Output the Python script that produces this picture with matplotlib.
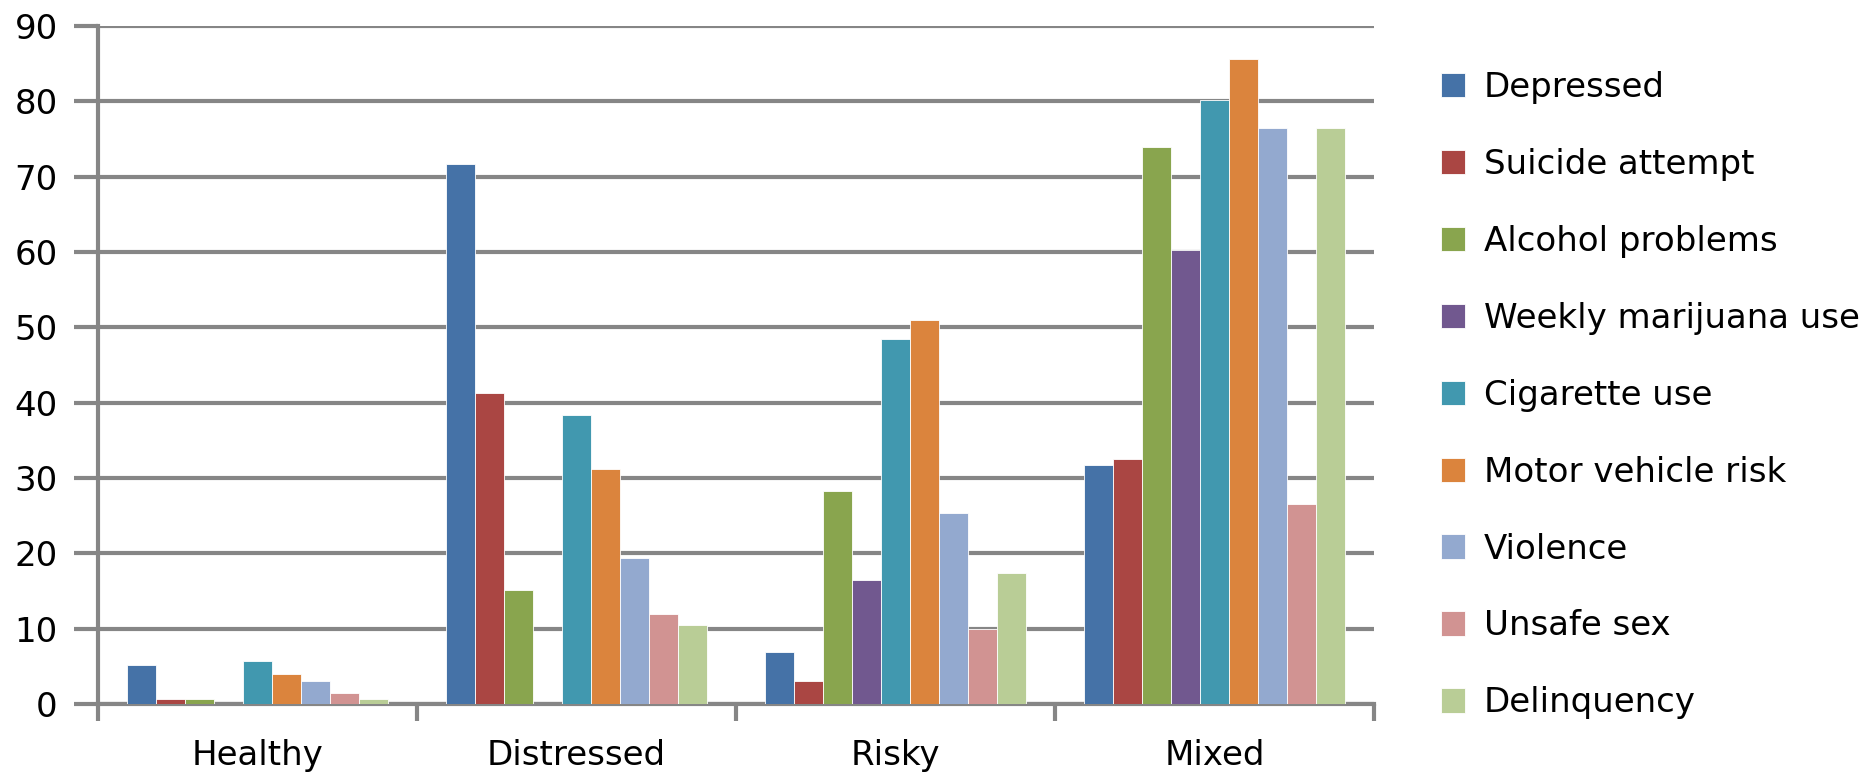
import numpy as np
import matplotlib
matplotlib.use("Agg")
import matplotlib.pyplot as plt

groups = ["Healthy", "Distressed", "Risky", "Mixed"]
series = ["Depressed", "Suicide attempt", "Alcohol problems", "Weekly marijuana use",
          "Cigarette use", "Motor vehicle risk", "Violence", "Unsafe sex", "Delinquency"]

depressed = [5.2, 71.7, 6.9, 31.7]
suicide = [0.6, 41.3, 3.1, 32.5]
alcohol = [0.6, 15.2, 28.3, 73.9]
marijuana = [0, 0, 16.5, 60.3]
cigarette = [5.65, 38.4, 48.5, 80.2]
motor = [4.0, 31.2, 51.0, 85.6]
violence = [3.1, 19.4, 25.4, 76.4]
unsafe = [1.4, 11.9, 9.9, 26.6]
delinquency = [0.6, 10.5, 17.4, 76.4]

values = [depressed, suicide, alcohol, marijuana, cigarette, motor, violence, unsafe, delinquency]
colors = ["#4572A7", "#AA4643", "#89A54E", "#71588F", "#4198AF",
          "#DB843D", "#93A9CF", "#D19392", "#B9CD96"]

plt.rcParams['font.family'] = ['DejaVu Sans']
fig = plt.figure(figsize=(18.7, 7.78), dpi=100)
ax = fig.add_axes([0.0524, 0.0951, 0.6824, 0.8715])

grid_col = "#868686"
n = len(series)
w = 1.0 / (n + 2)
x = np.arange(len(groups))
for i, (name, vals) in enumerate(zip(series, values)):
    pos = x - 0.5 + w * (1 + i) + w / 2
    ax.bar(pos, vals, width=w, color=colors[i], label=name, zorder=3,
           edgecolor="white", linewidth=0.6)

ax.set_xlim(-0.5, len(groups) - 0.5)
ax.set_ylim(0, 90)
ax.set_yticks(range(0, 91, 10))
ax.yaxis.grid(True, color=grid_col, linewidth=3, zorder=0)
ax.set_axisbelow(True)

ax.set_xticks(x)
ax.set_xticklabels(groups, fontsize=24.5)
ax.set_xticks(np.arange(-0.5, len(groups), 1), minor=True)
ax.tick_params(axis="x", which="major", length=0, pad=25)
ax.tick_params(axis="x", which="minor", length=12, width=3, color=grid_col)
ax.tick_params(axis="y", length=17, width=3, color=grid_col, labelsize=24.5, pad=12)

for s in ["top", "right"]:
    ax.spines[s].set_visible(False)
for s in ["left", "bottom"]:
    ax.spines[s].set_color(grid_col)
    ax.spines[s].set_linewidth(3)

fig.legend(loc="center left", bbox_to_anchor=(0.754, 0.492), frameon=False,
           fontsize=24.5, labelspacing=1.29, handlelength=0.72, handleheight=0.72,
           handletextpad=0.55)

fig.savefig("out.png", dpi=100)
